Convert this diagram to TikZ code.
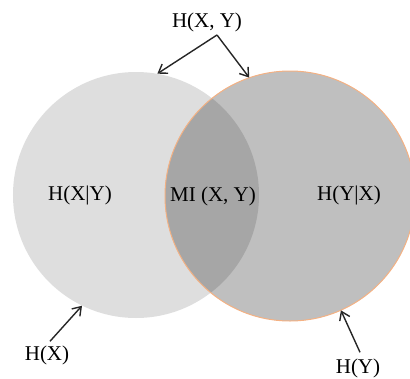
\documentclass[tikz,border=0pt]{standalone}
\usepackage{fontspec}
\setmainfont{Liberation Serif}
\usetikzlibrary{arrows.meta}
\definecolor{leftgray}{HTML}{DEDEDE}
\definecolor{rightgray}{HTML}{BFBFBF}
\definecolor{bothgray}{HTML}{A6A6A6}
\definecolor{rimorange}{HTML}{F4B183}
\tikzset{
  lbl/.style={inner sep=0pt, font=\fontsize{21bp}{25bp}\selectfont},
  pointer/.style={draw=black!85, line width=1.4bp, -{Straight Barb[length=8bp,width=11bp]}},
}
\begin{document}
\begin{tikzpicture}[x=1bp, y=-1bp]
  \useasboundingbox (0,0) rectangle (410,379);
  % the two sets
  \node[circle, inner sep=0pt, minimum size=246bp, fill=leftgray] (L) at (136,195) {};
  \node[circle, inner sep=0pt, minimum size=250bp, fill=rightgray] (R) at (290,196) {};
  % their intersection
  \begin{scope}
    \clip (136,195) circle [radius=123];
    \fill[bothgray] (290,196) circle [radius=125];
  \end{scope}
  \draw[rimorange, line width=1bp] (290,196) circle [radius=125];
  % region labels
  \node[lbl] (hxy) at (80,195) {H(X|Y)};
  \node[lbl] (mi) at (213,196) {MI (X, Y)};
  \node[lbl] (hyx) at (349,195) {H(Y|X)};
  % outer labels
  \node[lbl] (joint) at (207,22) {H(X, Y)};
  \node[lbl] (hx) at (47,355) {H(X)};
  \node[lbl] (hy) at (358,368) {H(Y)};
  % pointers
  \coordinate (jstart) at (217,35);
  \draw[pointer] (jstart) -- (L.80);
  \draw[pointer] (jstart) -- (R.109);
  \draw[pointer] (hx.north) ++(3,-4) -- (L.-116);
  \draw[pointer] (hy.north) ++(2,-6) -- (R.-66);
\end{tikzpicture}
\end{document}
